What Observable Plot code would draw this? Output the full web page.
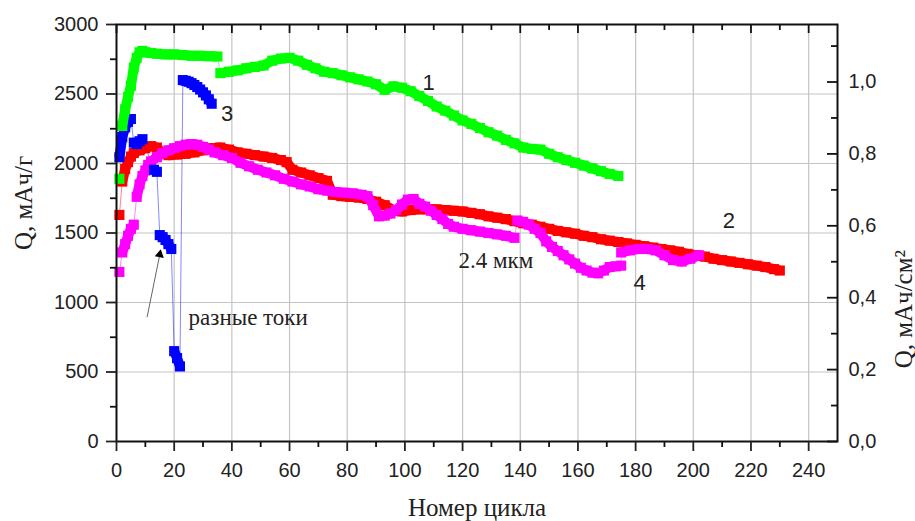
<!DOCTYPE html>
<html><head><meta charset="utf-8">
<script src="https://cdn.jsdelivr.net/npm/d3@7"></script>
<script src="https://cdn.jsdelivr.net/npm/@observablehq/plot@0.6"></script>
<style>body{margin:0;background:#fff} svg{display:block}</style>
</head><body><div id="chart"></div>
<script>
// ---- data ----
const greenCycles = [1,2,3,4,5,6,7,8,9,10,12,14,17,20,23,26,29,32,35,36,39,42,45,48,51,54,57,60,63,66,69,72,75,78,81,84,87,90,93,96,99,102,105,108,111,114,117,120,123,126,129,132,135,138,141,144,147,150,153,156,159,162,165,168,171,174];
const greenQ = [1890,2270,2390,2480,2560,2690,2760,2800,2810,2800,2795,2790,2785,2785,2780,2775,2775,2772,2770,2650,2660,2670,2685,2695,2705,2740,2755,2760,2740,2710,2685,2660,2650,2635,2620,2605,2590,2570,2530,2555,2545,2520,2485,2450,2410,2380,2345,2310,2285,2255,2225,2200,2170,2145,2115,2105,2100,2070,2045,2025,2005,1985,1965,1945,1925,1910];
const greenSegStarts = [0, 1, 19];

const redCycles = [1,2,3,4,5,6,8,10,12,14,16,18,21,24,27,30,33,36,39,42,45,48,51,54,57,59,61,64,67,70,73,75,78,81,84,87,90,93,96,99,102,105,108,111,114,117,120,123,126,129,132,135,138,141,144,147,150,153,156,159,162,165,168,171,174,177,180,183,186,189,192,195,198,201,204,207,210,213,216,219,222,225,228,230];
const redQ = [1630,1870,1960,2010,2050,2075,2095,2110,2125,2115,2075,2060,2065,2070,2080,2095,2110,2115,2100,2080,2070,2060,2050,2040,2025,2010,1955,1935,1915,1895,1875,1775,1765,1760,1755,1745,1725,1700,1665,1655,1665,1670,1670,1670,1665,1660,1655,1645,1635,1620,1610,1600,1585,1570,1560,1545,1530,1515,1505,1495,1480,1470,1455,1445,1435,1425,1415,1405,1395,1385,1375,1365,1350,1340,1330,1315,1305,1295,1285,1275,1265,1255,1240,1230];
const redSegStarts = [0, 1];

const blueCycles = [1,2,3,4,5,6,7,8,9,13,14,15,16,17,18,19,20,21,22,23,24,25,26,27,28,29,30,31,32,33];
const blueQ = [2045,2190,2260,2300,2320,2150,2140,2160,2175,1955,1940,1485,1470,1450,1420,1385,650,600,540,2600,2595,2588,2578,2565,2550,2532,2512,2490,2462,2430];
const blueSegStarts = [0, 5, 9, 11, 16, 19];

const magentaCycles = [1,2,3,4,5,6,7,8,9,10,11,12,14,16,18,20,22,24,26,28,30,32,34,37,40,43,46,49,52,55,58,61,64,67,70,73,76,79,82,85,87,89,91,93,95,97,99,101,103,105,107,109,111,113,115,117,120,123,126,129,132,135,138,139,141,143,145,147,149,151,153,155,157,159,161,163,165,167,169,171,173,175,175,178,181,184,187,190,193,196,199,202];
const magentaQ = [1220,1360,1420,1480,1530,1560,1760,1850,1910,1950,1990,2015,2045,2075,2095,2110,2125,2135,2140,2135,2120,2100,2080,2060,2040,2005,1980,1955,1935,1915,1890,1870,1850,1835,1815,1805,1795,1790,1785,1775,1765,1700,1620,1625,1640,1665,1705,1740,1745,1710,1690,1660,1630,1600,1565,1545,1530,1520,1510,1500,1490,1480,1465,1590,1580,1560,1530,1500,1440,1400,1370,1340,1310,1280,1250,1230,1215,1210,1230,1255,1260,1265,1360,1375,1385,1385,1375,1340,1305,1295,1315,1340];
const magentaSegStarts = [0, 1, 6, 63, 82];

// tick values
const xTicks = [0,20,40,60,80,100,120,140,160,180,200,220,240];
const xMinorTicks = [10,30,50,70,90,110,130,150,170,190,210,230];
const yTicks = [0,500,1000,1500,2000,2500,3000];
const yMinorTicks = [250,750,1250,1750,2250,2750];
const rightTicks = [0,0.2,0.4,0.6,0.8,1.0];
const rightMinorTicks = [0.1,0.3,0.5,0.7,0.9,1.1];

// annotations
const seriesNames = ["1","2","3","4"];
const seriesLabelX = [108.2,212.3,38.4,181.4];
const seriesLabelY = [2576,1590,2360,1144];
const noteTexts = ["2.4 мкм","разные токи"];
const noteX = [118.6,25];
const noteY = [1302,892];
const arrowFrom = [10.6, 894];
const arrowTo = [15.3, 1374];

// ---- layout ----
const W = 915, H = 521, mL = 116, mR = 78, mT = 24, mB = 80;
const xMax = 250, yMax = 3000, rightMax = 1.16;
const k = yMax / rightMax;
const pxX = xMax / (W - mL - mR);
const pxY = yMax / (H - mT - mB);

const mk = (c, q, starts) => c.map((d, i) => ({cycle: d, q: q[i], seg: starts.filter(s => s <= i).length}));
const green = mk(greenCycles, greenQ, greenSegStarts);
const red = mk(redCycles, redQ, redSegStarts);
const blue = mk(blueCycles, blueQ, blueSegStarts);
const magenta = mk(magentaCycles, magentaQ, magentaSegStarts);

const labels = seriesNames.map((t, i) => ({t, x: seriesLabelX[i], y: seriesLabelY[i]}));
const notes = noteTexts.map((t, i) => ({t, x: noteX[i], y: noteY[i]}));

const series = [
  [red, "#ff0000"],
  [magenta, "#ff00ff"],
  [blue, "#0000ff"],
  [green, "#00ff00"]
];

const sq = 5.7;
const marks = [
  Plot.gridX(xTicks.filter(d => d > 0), {stroke: "#c4c4c4", strokeOpacity: 1, strokeWidth: 1.2}),
  Plot.gridY(yTicks.filter(d => d > 0 && d < yMax), {stroke: "#c4c4c4", strokeOpacity: 1, strokeWidth: 1.2}),
];
for (const [data, color] of series) {
  marks.push(Plot.line(data, {x: "cycle", y: "q", stroke: color, strokeWidth: 0.8, strokeOpacity: 0.6}));
}
for (const [data, color] of series) {
  marks.push(Plot.line(data, {x: "cycle", y: "q", z: "seg", stroke: color, strokeWidth: 10, strokeLinejoin: "round", strokeLinecap: "butt"}));
  marks.push(Plot.dot(data, {x: "cycle", y: "q", symbol: "square", r: sq, fill: color, stroke: null}));
}
marks.push(
  // arrow
  Plot.link([0], {x1: arrowFrom[0], y1: arrowFrom[1], x2: arrowTo[0], y2: arrowTo[1], stroke: "#666", strokeWidth: 1}),
  Plot.dot([0], {x: arrowTo[0] - 0.3, y: arrowTo[1] - 28, symbol: "triangle", r: 3.4, fill: "#000", stroke: null, rotate: 11}),
  // frame
  Plot.frame({stroke: "#111", strokeWidth: 2}),
  // left axis
  Plot.axisY({ticks: yTicks, anchor: "left", tickSize: 10, tickPadding: 8, strokeWidth: 1.8, tickFormat: d => String(d), label: null, fill: "#222"}),
  Plot.ruleY(yMinorTicks, {y: d => d, x1: 0, x2: -6 * pxX, stroke: "#111", strokeWidth: 1.8}),
  // bottom axis
  Plot.axisX({ticks: xTicks, anchor: "bottom", tickSize: 10, tickPadding: 11, strokeWidth: 1.8, tickFormat: d => String(d), label: null, fill: "#222"}),
  Plot.ruleX(xMinorTicks, {x: d => d, y1: 0, y2: -6 * pxY, stroke: "#111", strokeWidth: 1.8}),
  // top inward ticks
  Plot.ruleX(xTicks, {x: d => d, y1: yMax, y2: yMax - 9 * pxY, stroke: "#111", strokeWidth: 1.8}),
  Plot.ruleX(xMinorTicks, {x: d => d, y1: yMax, y2: yMax - 6 * pxY, stroke: "#111", strokeWidth: 1.8}),
  // right axis (mAh/cm2)
  Plot.ruleY(rightTicks.map(v => v * k), {y: d => d, x1: xMax, x2: xMax - 10 * pxX, stroke: "#111", strokeWidth: 1.8}),
  Plot.ruleY(rightMinorTicks.map(v => v * k), {y: d => d, x1: xMax, x2: xMax - 6 * pxX, stroke: "#111", strokeWidth: 1.8}),
  Plot.axisY({ticks: rightTicks.map(v => v * k), anchor: "right", tickSize: 0, tickPadding: 11, tickFormat: d => (d / k).toFixed(1).replace(".", ","), label: null, fill: "#222"}),
  // axis titles
  Plot.text(["Номер цикла"], {frameAnchor: "bottom", dy: 57, lineAnchor: "top", fontFamily: "Liberation Serif", fontSize: 25, fill: "#222"}),
  Plot.text(["Q, мАч/г"], {frameAnchor: "left", dx: -93, dy: 17, rotate: -90, fontFamily: "Liberation Serif", fontSize: 25, fill: "#222"}),
  Plot.text(["Q, мАч/см²"], {frameAnchor: "right", dx: 66, dy: 17, rotate: -90, fontFamily: "Liberation Serif", fontSize: 25, fill: "#222"}),
  // annotations
  Plot.text(labels, {x: "x", y: "y", text: "t", fontSize: 22, fontFamily: "Liberation Sans", fill: "#222"}),
  Plot.text(notes, {x: "x", y: "y", text: "t", textAnchor: "start", fontSize: 23, fontFamily: "Liberation Serif", fill: "#222"})
);

const chart = Plot.plot({
  width: W, height: H,
  marginLeft: mL, marginRight: mR, marginTop: mT, marginBottom: mB,
  x: {domain: [0, xMax]},
  y: {domain: [0, yMax]},
  style: {fontFamily: "Liberation Sans", fontSize: "20px", color: "#222", background: "#fff", overflow: "visible"},
  marks
});
document.getElementById("chart").appendChild(chart);
</script>
</body></html>
